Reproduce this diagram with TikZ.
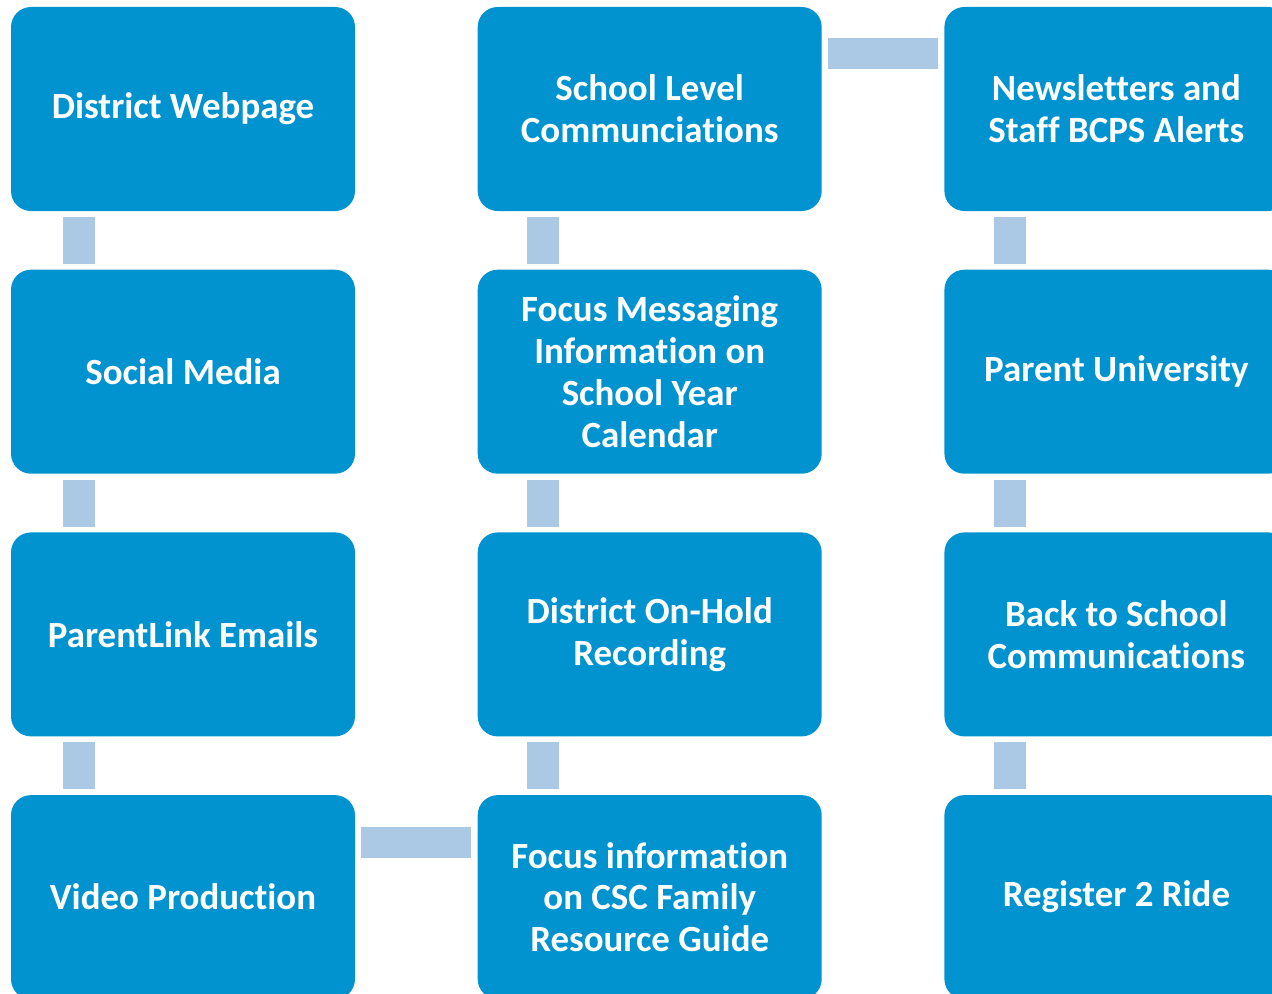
\documentclass[tikz,border=0pt]{standalone}
\usepackage{fontspec}
\setmainfont[Ligatures=NoCommon]{Carlito}
\usepackage{xcolor}
\usetikzlibrary{positioning}
\definecolor{boxblue}{HTML}{0093D0}
\definecolor{linkblue}{HTML}{ABC8E5}
\tikzstyle{box} = [rectangle, rounded corners=0.4cm, minimum width=6.88cm, minimum height=4.08cm, inner sep=0pt, align=center, fill=boxblue, text=white, font=\bfseries\fontsize{21}{23.8}\selectfont]
\tikzstyle{vlink} = [draw=linkblue, line width=0.64cm, shorten <=0.11cm, shorten >=0.11cm]
\tikzstyle{hlink} = [draw=linkblue, line width=0.62cm, shorten <=0.12cm, shorten >=0.12cm]

\begin{document}
\begin{tikzpicture}[node distance=1.16cm and 2.44cm]
  \clip (0,0) rectangle (25.44,-19.86);
  % first column
  \node (web)[box] at (3.66,-2.18) {District Webpage};
  \node (social)[box, below=of web]{Social Media};
  \node (plink)[box, below=of social]{ParentLink Emails};
  \node (video)[box, below=of plink]{Video Production};
  % second column
  \node (school)[box, right=of web]{School Level\\Communciations};
  \node (focusmsg)[box, below=of school]{Focus Messaging\\Information on\\School Year\\Calendar};
  \node (onhold)[box, below=of focusmsg]{District On-Hold\\Recording};
  \node (csc)[box, below=of onhold]{Focus information\\on CSC Family\\Resource Guide};
  % third column
  \node (news)[box, right=of school]{Newsletters and\\Staff BCPS Alerts};
  \node (puniv)[box, below=of news]{Parent University};
  \node (back)[box, below=of puniv]{Back to School\\Communications};
  \node (ride)[box, below=of back]{Register 2 Ride};
  % connectors
  \draw [vlink] ([xshift=1.36cm]web.south west) -- ([xshift=1.36cm]social.north west);
  \draw [vlink] ([xshift=1.36cm]social.south west) -- ([xshift=1.36cm]plink.north west);
  \draw [vlink] ([xshift=1.36cm]plink.south west) -- ([xshift=1.36cm]video.north west);
  \draw [vlink] ([xshift=1.32cm]school.south west) -- ([xshift=1.32cm]focusmsg.north west);
  \draw [vlink] ([xshift=1.32cm]focusmsg.south west) -- ([xshift=1.32cm]onhold.north west);
  \draw [vlink] ([xshift=1.32cm]onhold.south west) -- ([xshift=1.32cm]csc.north west);
  \draw [vlink] ([xshift=1.32cm]news.south west) -- ([xshift=1.32cm]puniv.north west);
  \draw [vlink] ([xshift=1.32cm]puniv.south west) -- ([xshift=1.32cm]back.north west);
  \draw [vlink] ([xshift=1.32cm]back.south west) -- ([xshift=1.32cm]ride.north west);
  \draw [hlink] ([yshift=-0.94cm]school.north east) -- ([yshift=-0.94cm]news.north west);
  \draw [hlink] ([yshift=-0.96cm]video.north east) -- ([yshift=-0.96cm]csc.north west);
\end{tikzpicture}
\end{document}
